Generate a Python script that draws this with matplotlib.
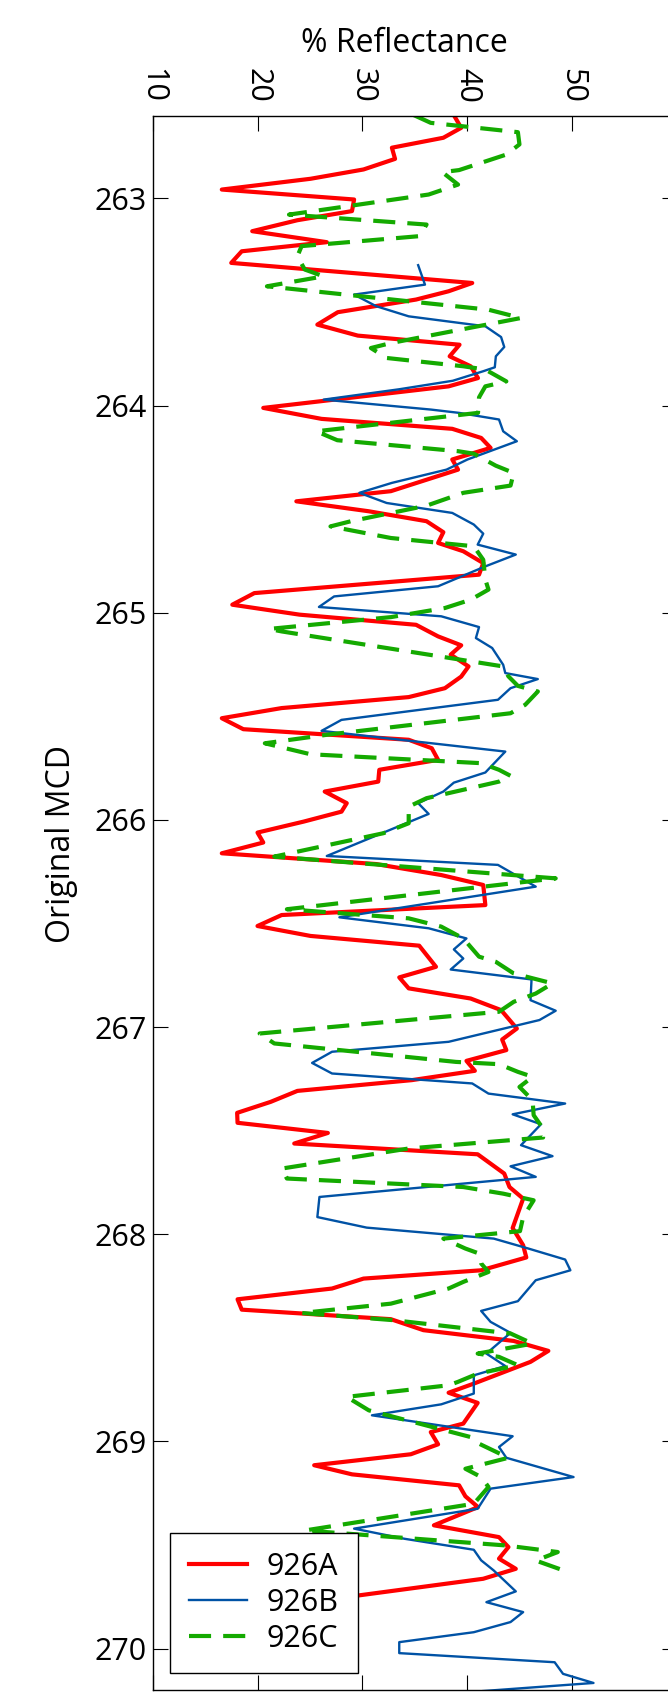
import matplotlib
matplotlib.use("Agg")
import matplotlib.pyplot as plt

plt.rcParams["font.family"] = ["Open Sans", "DejaVu Sans"]

# 926A - depth (original MCD) and % reflectance
depth_a = [262.598, 262.659, 262.707, 262.755, 262.809, 262.860, 262.905, 262.957,
           263.005, 263.061, 263.105, 263.158, 263.211, 263.255, 263.311, 263.408,
           263.448, 263.488, 263.549, 263.609, 263.662, 263.706, 263.762, 263.810,
           263.867, 263.907, 264.011, 264.064, 264.112, 264.156, 264.204, 264.260,
           264.309, 264.413, 264.462, 264.510, 264.558, 264.611, 264.663, 264.703,
           264.760, 264.816, 264.905, 264.961, 265.009, 265.058, 265.114, 265.157,
           265.202, 265.259, 265.308, 265.364, 265.407, 265.460, 265.509, 265.562,
           265.613, 265.654, 265.710, 265.758, 265.815, 265.863, 265.919, 265.960,
           266.008, 266.061, 266.109, 266.161, 266.213, 266.266, 266.314, 266.411,
           266.459, 266.512, 266.560, 266.607, 266.709, 266.760, 266.813, 266.862,
           266.918, 267.007, 267.060, 267.111, 267.163, 267.211, 267.256, 267.308,
           267.361, 267.414, 267.462, 267.511, 267.562, 267.614, 267.707, 267.772,
           267.828, 267.970, 268.053, 268.112, 268.174, 268.214, 268.262, 268.314,
           268.364, 268.410, 268.463, 268.515, 268.563, 268.616, 268.721, 268.765,
           268.814, 268.914, 268.955, 269.014, 269.062, 269.115, 269.159, 269.212,
           269.265, 269.317, 269.405, 269.462, 269.510, 269.566, 269.615, 269.663,
           269.744, 269.770]
refl_a = [38.7, 39.4, 37.7, 32.8, 33.1, 30.1, 25.05, 16.6,
          29.2, 29.0, 23.8, 19.5, 26.6, 18.5, 17.5, 40.45,
          38.2, 35.1, 27.65, 25.7, 29.55, 39.24, 38.3, 40.3,
          41.0, 38.2, 20.55, 26.1, 38.55, 41.3, 42.2, 38.55,
          39.1, 32.7, 23.7, 30.6, 36.1, 37.7, 37.2, 39.6,
          41.5, 41.1, 19.7, 17.6, 24.0, 35.1, 37.2, 39.4,
          38.4, 40.1, 39.4, 37.85, 34.4, 22.3, 16.6, 18.65,
          34.4, 36.6, 37.2, 31.6, 31.5, 26.4, 28.5, 28.0,
          24.4, 20.0, 20.55, 16.6, 31.3, 37.5, 41.5, 41.7,
          22.3, 20.0, 25.05, 35.4, 37.0, 33.5, 34.4, 40.3,
          43.2, 44.7, 43.3, 43.7, 39.9, 40.7, 34.7, 23.8,
          21.25, 18.06, 18.1, 26.7, 23.5, 40.97, 43.5, 44.0,
          45.3, 44.3, 45.3, 45.6, 41.3, 30.1, 27.1, 18.1,
          18.5, 32.7, 35.8, 44.4, 47.7, 46.0, 40.6, 38.2,
          40.97, 39.6, 36.5, 37.2, 34.6, 25.4, 29.0, 39.2,
          39.8, 41.0, 36.8, 43.0, 43.9, 43.0, 44.6, 41.5,
          29.55, 24.0]

# 926B
depth_b = [263.322, 263.416, 263.464, 263.520, 263.569, 263.617, 263.669, 263.717,
           263.762, 263.815, 263.834, 263.880, 263.921, 263.971, 264.019, 264.035,
           264.067, 264.124, 264.172, 264.260, 264.309, 264.373, 264.421, 264.470,
           264.518, 264.574, 264.618, 264.671, 264.719, 264.776, 264.872, 264.921,
           264.972, 265.017, 265.069, 265.122, 265.170, 265.251, 265.291, 265.320,
           265.364, 265.420, 265.517, 265.570, 265.670, 265.771, 265.820, 265.863,
           265.919, 265.971, 266.174, 266.217, 266.322, 266.470, 266.523, 266.572,
           266.625, 266.669, 266.722, 266.770, 266.870, 266.921, 266.966, 267.071,
           267.119, 267.173, 267.224, 267.272, 267.321, 267.369, 267.421, 267.469,
           267.570, 267.623, 267.672, 267.723, 267.820, 267.917, 267.968, 268.021,
           268.069, 268.122, 268.174, 268.222, 268.323, 268.370, 268.423, 268.476,
           268.576, 268.636, 268.681, 268.769, 268.821, 268.874, 268.975, 269.027,
           269.079, 269.172, 269.228, 269.325, 269.421, 269.470, 269.523, 269.574,
           269.623, 269.724, 269.776, 269.824, 269.872, 269.921, 269.969, 270.022,
           270.066, 270.122, 270.166, 270.205]
refl_b = [35.3, 35.95, 29.2, 31.3, 34.4, 41.7, 43.2, 43.5,
          42.7, 42.6, 41.5, 38.6, 33.5, 26.3, 36.5, 39.2,
          43.0, 43.4, 44.7, 40.0, 38.0, 32.8, 29.7, 32.3,
          38.55, 40.6, 41.5, 40.97, 44.6, 41.7, 37.2, 27.3,
          25.85, 37.5, 41.1, 40.8, 42.35, 43.4, 43.6, 46.7,
          44.1, 42.9, 28.0, 26.1, 43.6, 41.7, 38.7, 37.7,
          35.3, 36.3, 26.6, 42.9, 46.5, 27.8, 36.3, 39.9,
          38.7, 39.6, 38.4, 46.1, 46.0, 48.4, 46.85, 38.2,
          27.1, 25.2, 27.1, 40.45, 42.0, 49.3, 44.3, 47.0,
          45.1, 48.1, 44.1, 46.5, 25.9, 25.7, 30.4, 42.5,
          45.8, 49.3, 49.8, 46.5, 44.8, 41.3, 42.2, 44.1,
          41.8, 43.6, 40.6, 40.6, 37.5, 30.9, 44.3, 43.0,
          43.7, 50.1, 42.2, 40.97, 29.2, 34.0, 40.6, 41.3,
          42.5, 44.6, 41.8, 45.3, 44.1, 40.6, 33.5, 33.5,
          48.3, 49.1, 52.0, 41.5]

# 926C
depth_c = [262.598, 262.635, 262.680, 262.739, 262.788, 262.863, 262.873, 262.933,
           262.981, 263.078, 263.126, 263.182, 263.230, 263.279, 263.343, 263.376,
           263.424, 263.537, 263.577, 263.698, 263.722, 263.770, 263.810, 263.826,
           263.883, 263.907, 263.960, 264.035, 264.124, 264.167, 264.220, 264.232,
           264.290, 264.325, 264.386, 264.421, 264.483, 264.558, 264.583, 264.639,
           264.679, 264.744, 264.840, 264.888, 264.937, 264.977, 265.021, 265.078,
           265.090, 265.259, 265.307, 265.353, 265.380, 265.444, 265.485, 265.589,
           265.630, 265.683, 265.726, 265.758, 265.787, 265.815, 265.895, 265.936,
           266.016, 266.064, 266.177, 266.282, 266.431, 266.475, 266.515, 266.572,
           266.660, 266.685, 266.741, 266.789, 266.838, 266.878, 266.926, 267.031,
           267.079, 267.168, 267.179, 267.216, 267.240, 267.289, 267.353, 267.425,
           267.490, 267.533, 267.586, 267.683, 267.731, 267.772, 267.804, 267.836,
           267.917, 267.985, 268.021, 268.069, 268.093, 268.141, 268.182, 268.230,
           268.262, 268.335, 268.380, 268.415, 268.479, 268.528, 268.576, 268.592,
           268.632, 268.673, 268.713, 268.729, 268.785, 268.850, 268.979, 269.011,
           269.079, 269.132, 269.172, 269.220, 269.301, 269.430, 269.502, 269.534,
           269.575, 269.631]
refl_c = [34.9, 36.5, 44.8, 44.95, 43.7, 39.2, 37.6, 39.1,
          36.3, 23.0, 36.1, 35.4, 24.2, 23.8, 24.5, 26.3,
          20.9, 42.0, 45.1, 32.7, 30.8, 32.3, 39.6, 41.7,
          43.7, 41.7, 41.1, 41.0, 25.6, 27.6, 39.1, 40.6,
          42.7, 44.4, 44.1, 39.6, 36.1, 28.9, 26.95, 32.7,
          40.6, 41.5, 41.7, 42.0, 40.3, 37.85, 32.7, 21.1,
          22.3, 43.4, 43.9, 44.8, 46.7, 45.5, 44.1, 26.6,
          20.7, 25.05, 41.3, 43.0, 44.1, 43.0, 36.1, 34.4,
          34.4, 32.0, 21.6, 48.4, 22.8, 34.4, 37.5, 39.6,
          41.1, 42.7, 44.4, 48.1, 46.5, 44.4, 43.0, 20.2,
          21.6, 38.9, 43.0, 44.8, 46.2, 44.95, 46.2, 46.3,
          47.2, 47.2, 34.4, 22.3, 22.8, 39.6, 43.4, 46.3,
          45.3, 45.0, 37.7, 39.8, 41.1, 41.3, 42.0, 39.6,
          38.2, 32.7, 24.2, 33.0, 44.1, 46.2, 40.97, 43.0,
          44.8, 40.97, 39.07, 38.2, 28.5, 30.6, 40.3, 41.1,
          43.9, 39.8, 41.3, 42.0, 40.6, 24.5, 43.6, 48.6,
          46.5, 49.6]

x_ticks = [10, 20, 30, 40, 50, 60]
y_ticks = [263, 264, 265, 266, 267, 268, 269, 270]

fig = plt.figure(figsize=(6.68, 16.94), dpi=100)
ax = fig.add_axes([0.2283, 0.00236, 0.7859, 0.9294])

ax.plot(refl_a, depth_a, color="#ff0000", linewidth=3.0, label="926A")
ax.plot(refl_b, depth_b, color="#0052a5", linewidth=1.7, label="926B")
ax.plot(refl_c, depth_c, color="#14aa00", linewidth=3.0,
        linestyle=(0, (5.3, 2.9)), label="926C")

ax.set_xlim(10, 60)
ax.set_ylim(270.2, 262.6)
ax.set_xticks(x_ticks)
ax.set_yticks(y_ticks)
ax.tick_params(axis="both", direction="in", length=10.8, width=0.8,
               labelsize=22, top=True, bottom=True, left=True, right=True,
               labeltop=True, labelbottom=False)
ax.tick_params(axis="x", labelrotation=-90, pad=9)
ax.tick_params(axis="y", pad=4)
for s in ax.spines.values():
    s.set_linewidth(1.0)

ax.set_xlabel("% Reflectance", fontsize=23)
ax.xaxis.set_label_position("top")
ax.xaxis.set_label_coords(0.479, 1.046)
ax.xaxis.label.set_verticalalignment("center")
ax.set_ylabel("Original MCD", fontsize=23)
ax.yaxis.set_label_coords(-0.173, 0.5375)
ax.yaxis.label.set_verticalalignment("center")

leg = ax.legend(loc="lower left", bbox_to_anchor=(0.033, 0.011), borderaxespad=0,
                fontsize=22, fancybox=False, edgecolor="black", framealpha=1,
                handlelength=1.9, handletextpad=0.65, borderpad=0.62, labelspacing=0.2)
leg.get_frame().set_linewidth(1.0)

fig.savefig("out.png", dpi=100)
